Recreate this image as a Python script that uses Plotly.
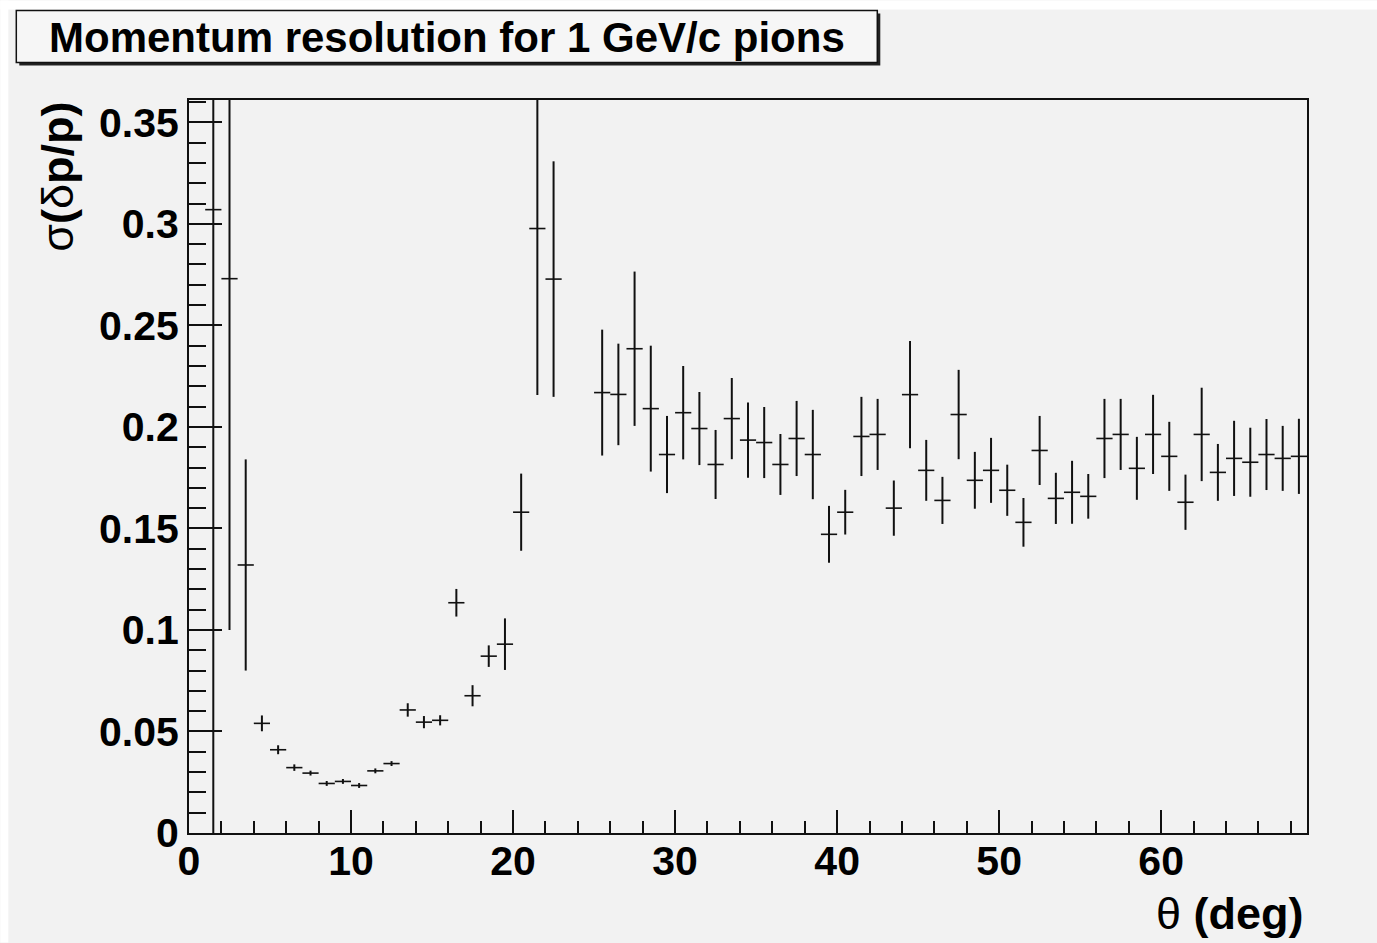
import plotly.graph_objects as go

# ---- data ----
theta = [1.5, 2.5, 3.5, 4.5, 5.5, 6.5, 7.5, 8.5, 9.5, 10.5, 11.5, 12.5, 13.5, 14.5, 15.5,
         16.5, 17.5, 18.5, 19.5, 20.5, 21.5, 22.5,
         25.5, 26.5, 27.5, 28.5, 29.5, 30.5, 31.5, 32.5, 33.5, 34.5, 35.5, 36.5, 37.5,
         38.5, 39.5, 40.5, 41.5, 42.5, 43.5, 44.5, 45.5, 46.5, 47.5, 48.5, 49.5, 50.5,
         51.5, 52.5, 53.5, 54.5, 55.5, 56.5, 57.5, 58.5, 59.5, 60.5, 61.5, 62.5, 63.5,
         64.5, 65.5, 66.5, 67.5, 68.5]
sigma = [0.307, 0.273, 0.132, 0.054, 0.041, 0.0322, 0.0295, 0.0244, 0.0254, 0.0234, 0.0306,
         0.0342, 0.0606, 0.0546, 0.0555, 0.1134, 0.0676, 0.0871, 0.093, 0.158, 0.2977, 0.2728,
         0.2169, 0.216, 0.2385, 0.209, 0.1864, 0.207, 0.1992, 0.1815, 0.2041, 0.1935, 0.1923,
         0.1815, 0.1943, 0.1864, 0.1471, 0.158, 0.1953, 0.1963, 0.160, 0.2159, 0.1786, 0.1638,
         0.2061, 0.1737, 0.1786, 0.1688, 0.153, 0.1884, 0.1648, 0.1678, 0.1658, 0.1943, 0.1963,
         0.1796, 0.1963, 0.1855, 0.1629, 0.1963, 0.1776, 0.1845, 0.1826, 0.1864, 0.1845, 0.1855]
sigma_err = [0.42, 0.173, 0.052, 0.0039, 0.0022, 0.0016, 0.0012, 0.0012, 0.0012, 0.0012, 0.0012,
             0.0012, 0.0033, 0.003, 0.0025, 0.0068, 0.0052, 0.0053, 0.0127, 0.019, 0.082, 0.058,
             0.031, 0.025, 0.038, 0.031, 0.019, 0.023, 0.018, 0.017, 0.020, 0.0185, 0.0175,
             0.015, 0.0185, 0.022, 0.014, 0.011, 0.0195, 0.0175, 0.0136, 0.0264, 0.015, 0.0116,
             0.022, 0.014, 0.016, 0.0126, 0.012, 0.017, 0.0126, 0.0155, 0.011, 0.0195, 0.0175,
             0.0155, 0.0195, 0.017, 0.0136, 0.023, 0.014, 0.0185, 0.017, 0.0175, 0.016, 0.0185]
half_bin = [0.5] * len(theta)

title_text = "Momentum resolution for 1 GeV/c pions"
x_title = "θ <b>(deg)</b>"
y_title = "σ<b>(</b>δ<b>p/p)</b>"

# ---- layout geometry ----
W, H = 1377, 943
ML, MR, MT, MB = 188.7, 70.3, 99.5, 109.7
PW, PH = W - ML - MR, H - MT - MB
BG = "#f2f2f2"
INK = "#111111"
FONT = "Liberation Sans"


def px(xp):
    return (xp - ML) / PW


def py(yp):
    return 1 - (yp - MT) / PH


fig = go.Figure()
fig.add_trace(go.Scatter(
    x=theta, y=sigma, mode="markers",
    marker=dict(size=1, color="rgba(0,0,0,0)"),
    error_x=dict(type="data", array=half_bin, visible=True, width=0, thickness=1.6, color=INK),
    error_y=dict(type="data", array=sigma_err, visible=True, width=0, thickness=2, color=INK),
    showlegend=False, hoverinfo="skip",
))

shapes = [
    # white strips at the left / top of the canvas
    dict(type="rect", xref="paper", yref="paper", x0=px(0), x1=px(8), y0=py(0), y1=py(H),
         fillcolor="white", line=dict(width=0), layer="below"),
    dict(type="rect", xref="paper", yref="paper", x0=px(0), x1=px(W), y0=py(0), y1=py(9),
         fillcolor="white", line=dict(width=0), layer="below"),
    # title box shadow + box
    dict(type="rect", xref="paper", yref="paper", x0=px(19), x1=px(880), y0=py(13), y1=py(65),
         fillcolor="#222222", line=dict(width=0)),
    dict(type="rect", xref="paper", yref="paper", x0=px(16), x1=px(877), y0=py(10), y1=py(62),
         fillcolor="#f6f6f6", line=dict(width=1.5, color=INK)),
]

annotations = [
    dict(text="<b>" + title_text + "</b>", xref="paper", yref="paper", x=px(447), y=py(36.5),
         xanchor="center", yanchor="middle", showarrow=False,
         font=dict(family=FONT, size=42, color="black")),
    dict(text=x_title, xref="paper", yref="paper", x=px(1306), y=py(914),
         xanchor="right", yanchor="middle", showarrow=False,
         font=dict(family=FONT, size=45, color="black")),
    dict(text=y_title, xref="paper", yref="paper", x=px(57), y=py(99),
         xanchor="center", yanchor="top", showarrow=False, textangle=-90,
         font=dict(family=FONT, size=45, color="black")),
]

axis_common = dict(showgrid=False, zeroline=False, showline=True, linewidth=2, linecolor=INK,
                   mirror=True, ticks="inside", tickwidth=2, tickcolor=INK,
                   tickfont=dict(family=FONT, size=41, color="black", weight="bold"))

fig.update_layout(
    width=W, height=H,
    margin=dict(l=ML, r=MR, t=MT, b=MB, pad=0),
    paper_bgcolor=BG, plot_bgcolor=BG,
    shapes=shapes, annotations=annotations,
    xaxis=dict(range=[0, 69], tickmode="linear", tick0=0, dtick=10, ticklen=23,
               ticklabelstandoff=-9,
               minor=dict(dtick=2, ticklen=12, tickwidth=2, ticks="inside", tickcolor=INK),
               **axis_common),
    yaxis=dict(range=[0, 0.361], tickmode="linear", tick0=0, dtick=0.05, ticklen=33,
               minor=dict(dtick=0.01, ticklen=17, tickwidth=2, ticks="inside", tickcolor=INK),
               **axis_common),
)

fig.write_html("out.html")
